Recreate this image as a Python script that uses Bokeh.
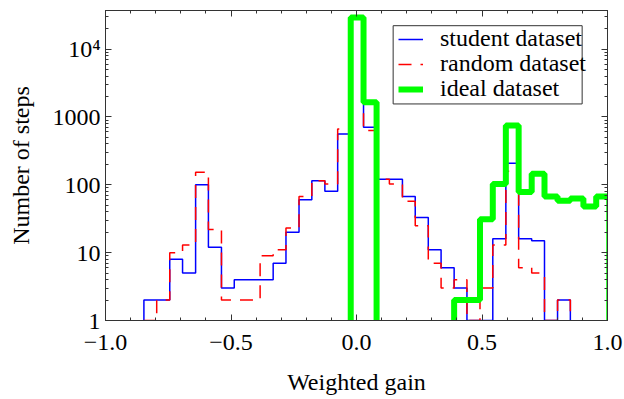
import numpy as np
from bokeh.plotting import figure
from bokeh.models import (Range1d, LinearAxis, LogAxis, FixedTicker, Legend, LegendItem,
                          CustomJSTickFormatter, BoxAnnotation)
from bokeh.embed import file_html
from bokeh.resources import INLINE

# ---------------- data ----------------
bin_edges = [-0.847, -0.796, -0.744, -0.693, -0.641, -0.590, -0.538, -0.487, -0.435,
             -0.384, -0.332, -0.281, -0.229, -0.178, -0.126, -0.075, -0.023, 0.028,
             0.080, 0.131, 0.183, 0.234, 0.286, 0.337, 0.389, 0.440, 0.492, 0.543,
             0.595, 0.646, 0.698, 0.749, 0.801, 0.852, 0.904, 0.955, 1.007]

# counts per bin (0 = empty bin, drawn below the log axis floor)
student_counts = [2, 2, 8, 5, 100, 12, 3, 4, 4, 4, 7, 20, 60, 115, 80, 562, 28000,
                  703, 121, 121, 67, 33, 11, 6, 3, 1, 1, 16, 207, 16, 15, 1, 2]
random_counts = [1, 2, 10, 13, 153, 22, 2, 2, 2, 9, 11, 23, 67, 115, 103, 666, 28000,
                 629, 121, 103, 57, 25, 7, 3, 4, 1, 3, 13, 158, 6, 5, 1, 2]
ideal_first_bin = 16
ideal_counts = [29300, 1641, 0, 0, 0, 0, 0, 0, 2, 2, 31, 103, 745, 78, 145, 67, 58,
                63, 48, 67]

x_ticks = [-1.0, -0.5, 0.0, 0.5, 1.0]
x_tick_labels = ["\u22121.0", "\u22120.5", "0.0", "0.5", "1.0"]
y_ticks = [1, 10, 100, 1000, 10000]
y_tick_labels = ["1", "10", "100", "1000", "10\u2074"]

series_names = ["student dataset", "random dataset", "ideal dataset"]

FLOOR = 0.1  # below the visible range of the log axis


def outline(edges, counts):
    xs = [edges[0]] + list(edges[:len(counts) + 1])
    ys = [FLOOR] + [c if c > 0 else FLOOR for c in counts] + [FLOOR]
    return xs, ys


FONT = "Liberation Serif"
AX = "#333333"

p = figure(width=624, height=399, y_axis_type="log",
           x_range=Range1d(-1.0, 1.0), y_range=Range1d(1, 37000),
           output_backend="svg", toolbar_location=None,
           min_border_left=105, min_border_right=17, min_border_top=10,
           min_border_bottom=79)
p.xgrid.visible = False
p.ygrid.visible = False
p.outline_line_color = AX
p.outline_line_width = 1
p.background_fill_color = "white"
p.border_fill_color = "white"

xs, ys = outline(bin_edges, student_counts)
r1 = p.step(xs, ys, mode="after", line_color="#0000ff", line_width=1.5)
xs, ys = outline(bin_edges, random_counts)
r2 = p.step(xs, ys, mode="after", line_color="#ff0000", line_width=1.5,
            line_dash="13 9")
xs, ys = outline(bin_edges[ideal_first_bin:], ideal_counts)
r3 = p.step(xs, ys, mode="after", line_color="#00ff00", line_width=6)

x_minor = list(np.round(np.arange(-1.0, 1.0001, 0.1), 2))
y_minor = [m * 10 ** d for d in range(0, 5) for m in range(2, 10)]

x_tk = FixedTicker(ticks=x_ticks, minor_ticks=x_minor)
y_tk = FixedTicker(ticks=y_ticks, minor_ticks=y_minor)


def style_axis(ax, ticker):
    ax.ticker = ticker
    ax.axis_line_color = AX
    ax.major_tick_line_color = AX
    ax.minor_tick_line_color = AX
    ax.major_tick_in = 6
    ax.major_tick_out = 0
    ax.minor_tick_in = 3
    ax.minor_tick_out = 0
    ax.major_label_text_font = FONT
    ax.major_label_text_font_size = "24px"
    ax.major_label_text_color = "black"
    ax.axis_label_text_font = FONT
    ax.axis_label_text_font_size = "24px"
    ax.axis_label_text_font_style = "normal"
    ax.axis_label_text_color = "black"


xa = p.xaxis[0]
style_axis(xa, x_tk)
xa.major_label_overrides = dict(zip(x_ticks, x_tick_labels))
xa.major_label_standoff = 14
xa.axis_label = "Weighted gain"
xa.axis_label_standoff = 16

ya = p.yaxis[0]
style_axis(ya, y_tk)
ya.major_label_overrides = dict(zip(y_ticks, y_tick_labels))
ya.major_label_standoff = 5
ya.axis_label = "Number of steps"
ya.axis_label_standoff = 16

top = LinearAxis(formatter=CustomJSTickFormatter(code="return ''"))
style_axis(top, x_tk)
top.major_label_text_font_size = "0px"
top.major_label_standoff = 0
p.add_layout(top, "above")

right = LogAxis(formatter=CustomJSTickFormatter(code="return ''"))
style_axis(right, y_tk)
right.major_label_text_font_size = "0px"
right.major_label_standoff = 0
p.add_layout(right, "right")

# legend frame (tighter row pitch than a single Bokeh legend allows)
legend_box = BoxAnnotation(left=0.146, right=0.899, top=22100, bottom=1553,
                           fill_color="white", fill_alpha=1.0,
                           line_color=AX, line_width=1, line_alpha=1.0)
p.add_layout(legend_box)

row_bottoms = [268, 243, 218]   # screen px above frame bottom, one per legend row
for name, rend, yb in zip(series_names, [r1, r2, r3], row_bottoms):
    lg = Legend(items=[LegendItem(label=name, renderers=[rend])], location=(293, yb))
    lg.label_text_font = FONT
    lg.label_text_font_size = "24px"
    lg.label_text_color = "black"
    lg.border_line_alpha = 0
    lg.background_fill_alpha = 0
    lg.padding = 0
    lg.spacing = 0
    lg.margin = 0
    lg.glyph_width = 25
    lg.glyph_height = 20
    lg.label_height = 20
    lg.label_standoff = 17
    p.add_layout(lg)

open("out.html", "w").write(file_html(p, INLINE))
